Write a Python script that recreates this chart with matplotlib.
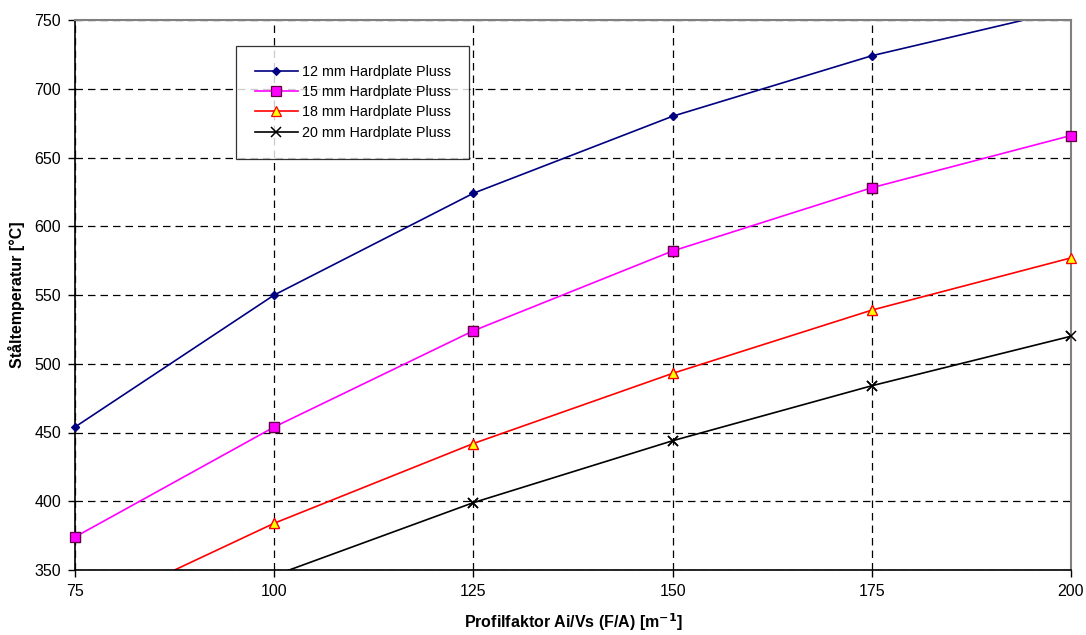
import matplotlib.pyplot as plt

plt.rcParams['font.family'] = ['Liberation Sans', 'DejaVu Sans']

# profile factor [1/m]
profil = [75, 100, 125, 150, 175, 200]

# steel temperature [°C]
t_12mm = [454, 550, 624, 680, 724, 758]
t_15mm = [374, 454, 524, 582, 628, 666]
t_18mm = [316, 384, 442, 493, 539, 577]
t_20mm = [286, 346, 399, 444, 484, 520]

labels = ['12 mm Hardplate Pluss', '15 mm Hardplate Pluss',
          '18 mm Hardplate Pluss', '20 mm Hardplate Pluss']

fig = plt.figure(figsize=(10.86, 6.35), dpi=100)
ax = fig.add_axes([75 / 1086, 65 / 635, 996 / 1086, 550 / 635])
ax.set_xlim(75, 200)
ax.set_ylim(350, 750)

styles = [
    dict(color='#000080', marker='D', ms=4.5, mfc='#000080', mec='#000080', mew=0.8),
    dict(color='#FF00FF', marker='s', ms=6.5, mfc='#FF00FF', mec='#600040', mew=0.9),
    dict(color='#FF0000', marker='^', ms=6.5, mfc='#FFFF00', mec='#FF0000', mew=0.9),
    dict(color='#000000', marker='x', ms=6.5, mew=1.1),
]

for temps, lab, st in zip([t_12mm, t_15mm, t_18mm, t_20mm], labels, styles):
    ax.plot(profil, temps, lw=1.2, label=lab, **st)
    # markers on the plot border are drawn whole, not clipped
    xs = [p for p, t in zip(profil, temps) if 350 <= t <= 750]
    ys = [t for t in temps if 350 <= t <= 750]
    ax.plot(xs, ys, ls='none', clip_on=False, zorder=4, **st)

ax.set_xticks(profil)
ax.set_yticks(range(350, 751, 50))

ax.grid(True, color='black', linestyle=(0, (6, 4)), linewidth=0.9)
ax.set_axisbelow(True)
for side in ['top', 'right']:
    ax.spines[side].set_color('#808080')
    ax.spines[side].set_linewidth(1.5)
for side in ['left', 'bottom']:
    ax.spines[side].set_color('black')
    ax.spines[side].set_linewidth(1.2)

ax.tick_params(direction='out', length=5, width=1, labelsize=11.5, pad=5)

ax.set_xlabel('Profilfaktor Ai/Vs (F/A) [m$^{\\mathbf{-1}}$]', fontsize=11.5,
              fontweight='bold', labelpad=9)
ax.set_ylabel('Ståltemperatur [°C]', fontsize=11.5, fontweight='bold', labelpad=7)

leg = ax.legend(loc='upper left', bbox_to_anchor=(161 / 996, 1 - 26 / 550),
                fontsize=10.3, frameon=True, fancybox=False, edgecolor='black',
                borderpad=1.3, labelspacing=0.45, handlelength=3.0,
                handletextpad=0.3, borderaxespad=0)
leg.get_frame().set_linewidth(0.9)

fig.savefig('out.png', dpi=100)
